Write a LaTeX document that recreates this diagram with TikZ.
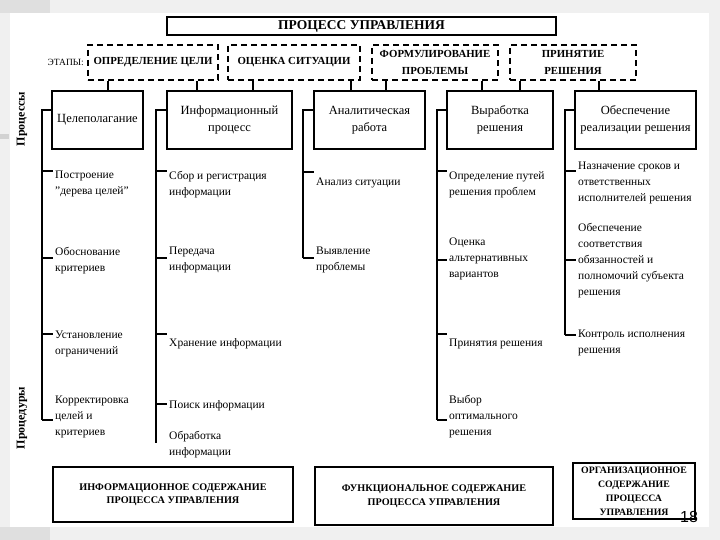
\documentclass[tikz,border=0pt]{standalone}
\usepackage{fontspec}
\setmainfont{Liberation Serif}
\newfontfamily\numfont{Liberation Sans}
\usepackage{tikz}
\usetikzlibrary{positioning,calc}

\tikzset{
  box/.style={draw, line width=1.1pt, rectangle, inner sep=0pt, align=center},
  stagebox/.style={draw, line width=1.8pt, dash pattern=on 6pt off 4pt, rectangle,
    inner sep=0pt, align=center, minimum height=35pt, font=\bfseries\fontsize{10.8}{17}\selectfont},
  procbox/.style={box, minimum height=58pt, font=\fontsize{12.5}{17}\selectfont},
  sumbox/.style={box, font=\bfseries\fontsize{10.2}{13.5}\selectfont},
  item/.style={anchor=north west, align=left, inner xsep=2pt, inner ysep=0pt,
    font=\fontsize{11.5}{16}\selectfont},
  bus/.style={line width=1.1pt},
  sidelabel/.style={rotate=90, font=\bfseries\fontsize{12}{13}\selectfont}
}

\begin{document}
\begin{tikzpicture}[x=1pt,y=-1pt]
    % Slide frame
    \useasboundingbox (0,0) rectangle (720,540);
    \fill[gray!12] (0,0) rectangle (720,540);
    \fill[gray!25] (0,0) rectangle (50,13);
    \fill[gray!25] (0,527) rectangle (50,540);
    \fill[white] (10,13) rectangle (709,527);
    \fill[gray!35] (0,134) rectangle (9,139);

    % Title and stages
    \node[box, minimum width=389pt, minimum height=18pt,
      font=\bfseries\fontsize{13.5}{14}\selectfont] (title) at (361.5,26) {ПРОЦЕСС УПРАВЛЕНИЯ};
    \node[anchor=east, inner sep=0pt, font=\fontsize{9.5}{11}\selectfont] (etapy) at (84,62) {ЭТАПЫ:};
    \node[stagebox, minimum width=130pt] (s1) at (153,62.5) {ОПРЕДЕЛЕНИЕ ЦЕЛИ};
    \node[stagebox, minimum width=132pt] (s2) at (294,62.5) {ОЦЕНКА СИТУАЦИИ};
    \node[stagebox, minimum width=126pt] (s3) at (435,62.5) {ФОРМУЛИРОВАНИЕ\\ПРОБЛЕМЫ};
    \node[stagebox, minimum width=126pt] (s4) at (573,62.5) {ПРИНЯТИЕ\\РЕШЕНИЯ};

    % Processes
    \node[procbox, minimum width=91pt]  (p1) at (97.5,120) {Целеполагание};
    \node[procbox, minimum width=125pt] (p2) at (229.5,120) {Информационный\\процесс};
    \node[procbox, minimum width=111pt] (p3) at (369.5,120) {Аналитическая\\работа};
    \node[procbox, minimum width=106pt] (p4) at (500,120) {Выработка\\решения};
    \node[procbox, minimum width=121pt] (p5) at (635.5,120) {Обеспечение\\реализации решения};

    % Stage -> process links
    \draw[bus] ([xshift=-45pt]s1.south) -- ([xshift=-45pt]s1.south |- p1.north);
    \draw[bus] ([xshift=44pt]s1.south) -- ([xshift=44pt]s1.south |- p2.north);
    \draw[bus] ([xshift=-41pt]s2.south) -- ([xshift=-41pt]s2.south |- p2.north);
    \draw[bus] ([xshift=57pt]s2.south) -- ([xshift=57pt]s2.south |- p3.north);
    \draw[bus] ([xshift=-49pt]s3.south) -- ([xshift=-49pt]s3.south |- p3.north);
    \draw[bus] ([xshift=47pt]s3.south) -- ([xshift=47pt]s3.south |- p4.north);
    \draw[bus] ([xshift=-53pt]s4.south) -- ([xshift=-53pt]s4.south |- p4.north);
    \draw[bus] ([xshift=26pt]s4.south) -- ([xshift=26pt]s4.south |- p5.north);

    % Side labels
    \node[sidelabel] (proc) at (22,119) {Процессы};
    \node[sidelabel] (procd) at (22,418) {Процедуры};

    % Procedures, column 1
    \node[item] (i11) at (53,171) {Построение\\"дерева целей"};
    \node[item] (i12) at (53,247) {Обоснование\\критериев};
    \node[item] (i13) at (53,331) {Установление\\ограничений};
    \node[item] (i14) at (53,396) {Корректировка\\целей и\\критериев};
    % column 2
    \node[item] (i21) at (167,171) {Сбор и регистрация\\информации};
    \node[item] (i22) at (167,247) {Передача\\информации};
    \node[item] (i23) at (167,338) {Хранение информации};
    \node[item] (i24) at (167,400) {Поиск информации};
    \node[item] (i25) at (167,431) {Обработка\\информации};
    % column 3
    \node[item] (i31) at (314,178) {Анализ ситуации};
    \node[item] (i32) at (314,247) {Выявление\\проблемы};
    % column 4
    \node[item] (i41) at (447,171) {Определение путей\\решения проблем};
    \node[item] (i42) at (447,238) {Оценка\\альтернативных\\вариантов};
    \node[item] (i43) at (447,339) {Принятия решения};
    \node[item] (i44) at (447,395) {Выбор\\оптимального\\решения};
    % column 5
    \node[item] (i51) at (576,162) {Назначение сроков и\\ответственных\\исполнителей решения};
    \node[item] (i52) at (576,223) {Обеспечение\\соответствия\\обязанностей и\\полномочий субъекта\\решения};
    \node[item] (i53) at (576,330) {Контроль исполнения\\решения};

    % Buses
    \coordinate (b1) at (42,110);  \coordinate (e1) at (42,420);
    \coordinate (b2) at (156,110); \coordinate (e2) at (156,443);
    \coordinate (b3) at (303,110); \coordinate (e3) at (303,258);
    \coordinate (b4) at (437,110); \coordinate (e4) at (437,420);
    \coordinate (b5) at (565,110); \coordinate (e5) at (565,335);
    \draw[bus] (p1.west |- b1) -- (b1) -- (e1);
    \draw[bus] (p2.west |- b2) -- (b2) -- (e2);
    \draw[bus] (p3.west |- b3) -- (b3) -- (e3);
    \draw[bus] (p4.west |- b4) -- (b4) -- (e4);
    \draw[bus] (p5.west |- b5) -- (b5) -- (e5);

    % Ticks
    \foreach \bx/\ty/\it in {42/171/i11, 42/258/i12, 42/334/i13, 42/420/i14,
        156/171/i21, 156/258/i22, 156/334/i23, 156/404/i24,
        303/172/i31, 303/258/i32,
        437/171/i41, 437/260/i42, 437/334/i43, 437/420/i44,
        565/171/i51, 565/260/i52, 565/335/i53} {
      \coordinate (t-\it) at (\bx,\ty);
      \draw[bus] (t-\it) -- (t-\it -| \it.west);
    }

    % Contents
    \node[sumbox, minimum width=240pt, minimum height=55pt] (c1) at (173,494.5)
      {ИНФОРМАЦИОННОЕ СОДЕРЖАНИЕ\\ПРОЦЕССА УПРАВЛЕНИЯ};
    \node[sumbox, minimum width=238pt, minimum height=58pt] (c2) at (434,496)
      {ФУНКЦИОНАЛЬНОЕ СОДЕРЖАНИЕ\\ПРОЦЕССА УПРАВЛЕНИЯ};
    \node[sumbox, minimum width=122pt, minimum height=56pt,
      font=\bfseries\fontsize{9.8}{14}\selectfont] (c3) at (634,491)
      {ОРГАНИЗАЦИОННОЕ\\СОДЕРЖАНИЕ\\ПРОЦЕССА\\УПРАВЛЕНИЯ};
    \node[inner sep=0pt, font=\numfont\fontsize{16}{16}\selectfont] (num) at (689,517) {18};
  \end{tikzpicture}
\end{document}
